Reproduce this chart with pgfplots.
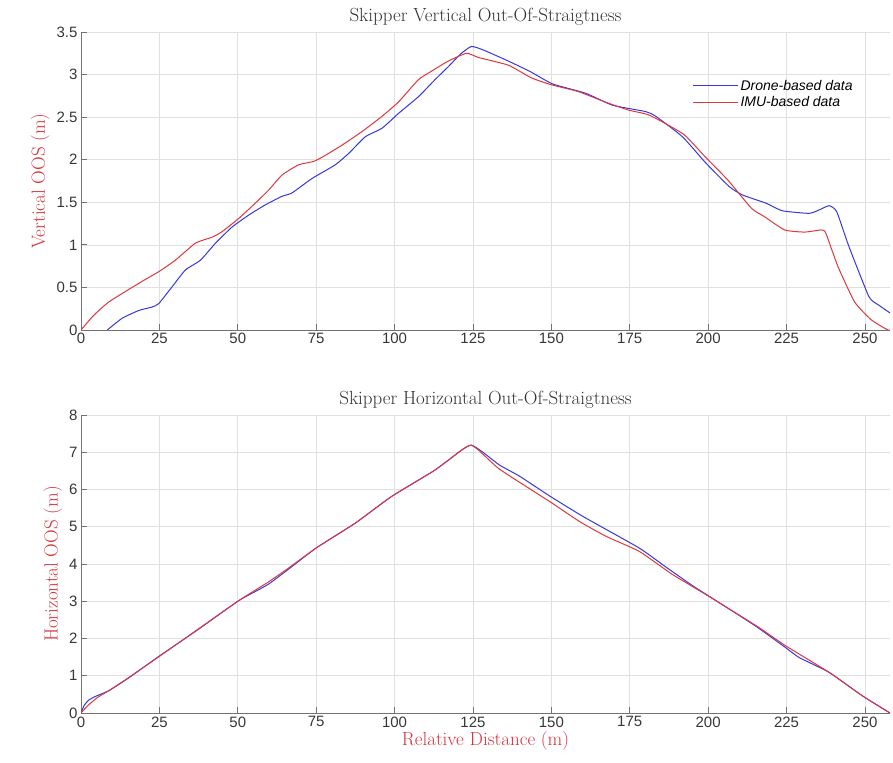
\documentclass[border=0pt]{standalone}
\usepackage{fontspec}
\usepackage{pgfplots}
\pgfplotsset{compat=1.18}
\newfontfamily\arial{Liberation Sans}
\definecolor{drone}{RGB}{55,55,220}
\definecolor{imu}{RGB}{222,55,60}
\definecolor{lab}{RGB}{215,50,60}
\definecolor{ticktxt}{RGB}{55,55,55}

\pgfplotsset{
  oos/.style={
    scale only axis, width=809pt, height=298pt,
    xmin=0, xmax=258, xtick={0,25,...,250},
    axis x line*=bottom, axis y line*=left,
    axis line style={-, draw=black!55, line width=0.8pt},
    tick align=inside, major tick length=6pt,
    tick style={black!55, line width=0.8pt},
    grid=major, major grid style={black!12, line width=0.6pt},
    tick label style={font=\arial\fontsize{15}{17}\selectfont, text=ticktxt},
    /pgf/number format/assume math mode=true,
    title style={font=\fontsize{19}{22}\selectfont, text=black!80, yshift=-3pt},
    ylabel style={font=\fontsize{19}{22}\selectfont, text=lab},
    xlabel style={font=\fontsize{19}{22}\selectfont, text=lab, yshift=3pt},
    every axis plot/.append style={line width=1pt, smooth, tension=0.3},
  },
}

\begin{document}
\begin{tikzpicture}
\useasboundingbox (0,0) rectangle (893pt,762pt);

% top: vertical out-of-straightness
\begin{axis}[oos, at={(81pt,432pt)}, anchor=south west,
    ymin=0, ymax=3.5, ytick={0,0.5,...,3.5},
    title={Skipper Vertical Out-Of-Straigtness},
    ylabel={Vertical OOS (m)},
    legend style={at={(0.752,0.853)}, anchor=north west, draw=none, fill=none,
        font=\arial\itshape\fontsize{14}{16}\selectfont, row sep=1pt},
    legend cell align=left,
    legend image code/.code={\draw[#1] (0pt,0pt) -- (45pt,0pt);}]
\addplot[drone] coordinates {
(8.4,0) (13.2,0.14) (18.5,0.23) (22.7,0.27) (24.8,0.31) (29.1,0.51) (33.3,0.705)
(38.1,0.82) (42.9,1.02) (48.2,1.21) (53.5,1.35) (58.8,1.47) (64.1,1.57) (67.3,1.61)
(73.7,1.78) (81.1,1.94) (85.4,2.075) (90.7,2.27) (96,2.37) (101.3,2.545) (107.6,2.74)
(112.9,2.94) (117.2,3.095) (121,3.24) (124.5,3.33) (128.2,3.29) (135.6,3.17) (143,3.04)
(150.4,2.89) (161,2.78) (169.5,2.64) (180.1,2.565) (183.3,2.51) (191.8,2.27) (199.3,1.96)
(206.7,1.685) (211,1.585) (218.4,1.49) (223.7,1.40) (232.2,1.37) (235.4,1.41) (238.6,1.46)
(241,1.39) (244.9,0.98) (251.3,0.39) (254.5,0.29) (258,0.2)};
\addplot[imu] coordinates {
(0,0) (4,0.17) (8.9,0.33) (18.5,0.55) (24.8,0.685) (30.1,0.82) (36.5,1.02) (41.8,1.09)
(45,1.155) (50.3,1.31) (55.6,1.49) (59.9,1.645) (64.1,1.82) (69.4,1.94) (74.2,1.98)
(77.4,2.04) (83.2,2.17) (89.6,2.33) (96,2.51) (101.3,2.68) (107.6,2.94) (111.8,3.04)
(117.2,3.16) (123,3.25) (126.8,3.20) (136.3,3.11) (143.7,2.96) (150,2.88) (158.6,2.80)
(167,2.68) (174.4,2.585) (180.8,2.53) (186.1,2.43) (192.5,2.29) (198.9,2.04) (206.3,1.76)
(213.8,1.43) (218,1.33) (224.4,1.175) (230.8,1.15) (236.1,1.175) (237.5,1.14) (241.4,0.745)
(246.7,0.33) (252,0.12) (257.3,0) (258,0)};
\legend{Drone-based data, IMU-based data}
\end{axis}

% bottom: horizontal out-of-straightness
\begin{axis}[oos, at={(81pt,49pt)}, anchor=south west,
    ymin=0, ymax=8, ytick={0,1,...,8},
    title={Skipper Horizontal Out-Of-Straigtness},
    ylabel={Horizontal OOS (m)},
    xlabel={Relative Distance (m)}]
\addplot[drone] coordinates {
(0,0) (1,0.2) (2.5,0.35) (5,0.46) (8.9,0.6) (15,0.93) (25,1.53) (37.5,2.25) (50,3.0)
(56,3.28) (60,3.47) (66,3.85) (75,4.43) (87.5,5.1) (99,5.81) (112.5,6.5) (117.2,6.79)
(124.5,7.19) (133.4,6.66) (139.8,6.36) (149.4,5.83) (160,5.28) (178,4.43) (186.5,3.92)
(195,3.42) (204.5,2.91) (215.2,2.33) (224.8,1.75) (229,1.49) (238.6,1.09) (249.2,0.46) (258,0)};
\addplot[imu] coordinates {
(0,0) (2.2,0.2) (5.3,0.42) (8.9,0.6) (15,0.94) (25,1.52) (37.5,2.26) (50,3.0)
(56,3.32) (60,3.53) (66,3.88) (75,4.43) (87.5,5.1) (99,5.81) (112.5,6.5) (117.2,6.79)
(124.5,7.19) (133.4,6.55) (149.4,5.68) (159,5.14) (167.5,4.74) (178,4.34) (188.6,3.72)
(199.3,3.18) (215.2,2.35) (224.8,1.8) (238.6,1.09) (249.2,0.46) (258,0)};
\end{axis}
\end{tikzpicture}
\end{document}
